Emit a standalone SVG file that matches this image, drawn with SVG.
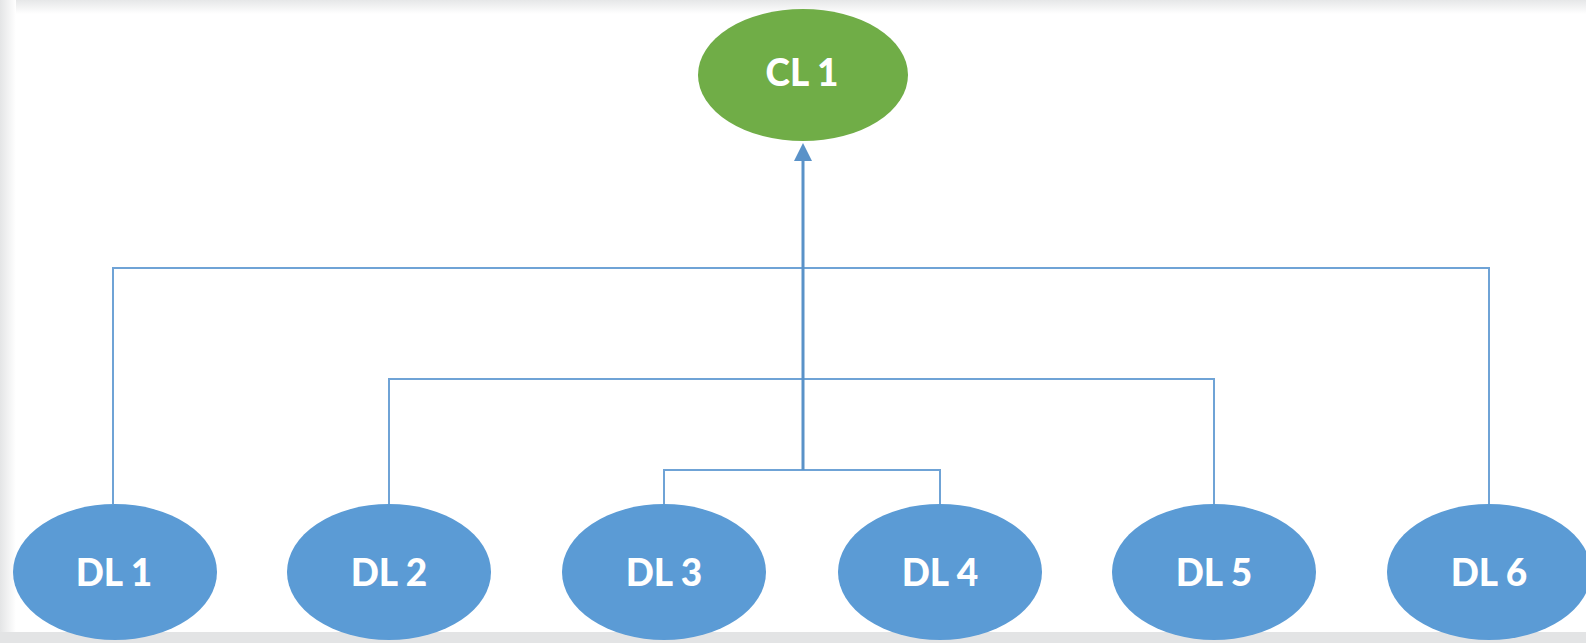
<svg xmlns="http://www.w3.org/2000/svg" width="1586" height="643" viewBox="0 0 1586 643">
<defs>
<style>
.dl{fill:#5B9BD5;}
.cl{fill:#70AD47;}
.lbl{font-family:Lato,"Liberation Sans",Arial,sans-serif;font-weight:900;fill:#ffffff;text-anchor:middle;font-size:37px;}
.conn{fill:none;stroke:#6FA3D6;stroke-width:2;}
.main{fill:none;stroke:#5A92C8;stroke-width:3;}
</style>
<linearGradient id="lg" x1="0" y1="0" x2="1" y2="0">
<stop offset="0" stop-color="#e4e5e6"/><stop offset="1" stop-color="#ffffff"/>
</linearGradient>
<linearGradient id="tg" x1="0" y1="0" x2="0" y2="1">
<stop offset="0" stop-color="#e6e7e8"/><stop offset="1" stop-color="#ffffff"/>
</linearGradient>
<marker id="arr" markerWidth="6" markerHeight="6" refX="3" refY="3" orient="auto" markerUnits="strokeWidth">
<path d="M0,0 L6,3 L0,6 Z" fill="#5A92C8"/>
</marker>
</defs>
<rect width="1586" height="643" fill="#ffffff"/>
<rect x="0" y="0" width="1586" height="14" fill="url(#tg)"/>
<rect x="0" y="0" width="16" height="643" fill="url(#lg)"/>
<rect x="0" y="632" width="1586" height="11" fill="#e3e4e5"/>
<g id="connectors">
<path class="conn" d="M113,504 V268 H1489 V504"/>
<path class="conn" d="M389,504 V379 H1214 V504"/>
<path class="conn" d="M664,504 V470 H940 V504"/>
<path class="main" d="M803,470 V152" marker-end="url(#arr)"/>
</g>
<g id="CL1">
<ellipse class="cl" cx="803" cy="75" rx="105" ry="66"/>
<text class="lbl" x="802" y="86">CL 1</text>
</g>
<g id="DL1">
<ellipse class="dl" cx="115" cy="572" rx="102" ry="68"/>
<text class="lbl" x="114" y="586">DL 1</text>
</g>
<g id="DL2">
<ellipse class="dl" cx="389" cy="572" rx="102" ry="68"/>
<text class="lbl" x="389" y="586">DL 2</text>
</g>
<g id="DL3">
<ellipse class="dl" cx="664" cy="572" rx="102" ry="68"/>
<text class="lbl" x="664" y="586">DL 3</text>
</g>
<g id="DL4">
<ellipse class="dl" cx="940" cy="572" rx="102" ry="68"/>
<text class="lbl" x="940" y="586">DL 4</text>
</g>
<g id="DL5">
<ellipse class="dl" cx="1214" cy="572" rx="102" ry="68"/>
<text class="lbl" x="1214" y="586">DL 5</text>
</g>
<g id="DL6">
<ellipse class="dl" cx="1489" cy="572" rx="102" ry="68"/>
<text class="lbl" x="1489" y="586">DL 6</text>
</g>
</svg>
